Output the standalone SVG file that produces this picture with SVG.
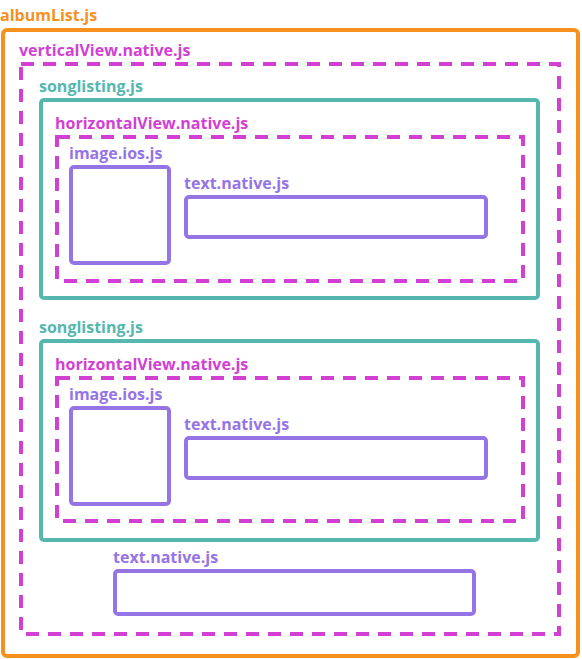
<svg xmlns="http://www.w3.org/2000/svg" width="582" height="659" viewBox="0 0 582 659">
<style>
text{font-family:"Open Sans","Noto Sans","Liberation Sans",sans-serif;font-weight:bold;font-size:16px}
.o{fill:none;stroke:#F7901E;stroke-width:4}
.m{fill:none;stroke:#D23FD3;stroke-width:4;stroke-dasharray:13 9}
.t{fill:none;stroke:#55B7AE;stroke-width:4}
.p{fill:none;stroke:#9574E6;stroke-width:4}
.to{fill:#F7901E}.tm{fill:#D23FD3}.tt{fill:#55B7AE}.tp{fill:#9574E6}
</style>
<rect width="582" height="659" fill="#fff"/>
<g id="albumList"><rect class="o" x="3" y="30" width="575" height="626" rx="4"/><text class="to" x="0" y="21">albumList.js</text></g>
<g id="verticalView"><rect class="m" x="21" y="64" width="538" height="570"/><text class="tm" x="19" y="56">verticalView.native.js</text></g>
<g id="songlisting1"><rect class="t" x="41" y="100" width="497" height="198" rx="3"/><text class="tt" x="39" y="92">songlisting.js</text></g>
<g id="horizontalView1"><rect class="m" x="57" y="137" width="466" height="144"/><text class="tm" x="55" y="129">horizontalView.native.js</text></g>
<g id="image1"><rect class="p" x="71" y="167" width="98" height="96" rx="3"/><text class="tp" x="69" y="159">image.ios.js</text></g>
<g id="text1"><rect class="p" x="186" y="197" width="300" height="40" rx="3"/><text class="tp" x="184" y="189">text.native.js</text></g>
<g id="songlisting2"><rect class="t" x="41" y="341" width="497" height="199" rx="3"/><text class="tt" x="39" y="333">songlisting.js</text></g>
<g id="horizontalView2"><rect class="m" x="57" y="378" width="466" height="143"/><text class="tm" x="55" y="370">horizontalView.native.js</text></g>
<g id="image2"><rect class="p" x="71" y="408" width="98" height="96" rx="3"/><text class="tp" x="69" y="400">image.ios.js</text></g>
<g id="text2"><rect class="p" x="186" y="438" width="300" height="40" rx="3"/><text class="tp" x="184" y="430">text.native.js</text></g>
<g id="text3"><rect class="p" x="115" y="571" width="359" height="43" rx="3"/><text class="tp" x="113" y="563">text.native.js</text></g>
<g id="connectors"/>
</svg>
